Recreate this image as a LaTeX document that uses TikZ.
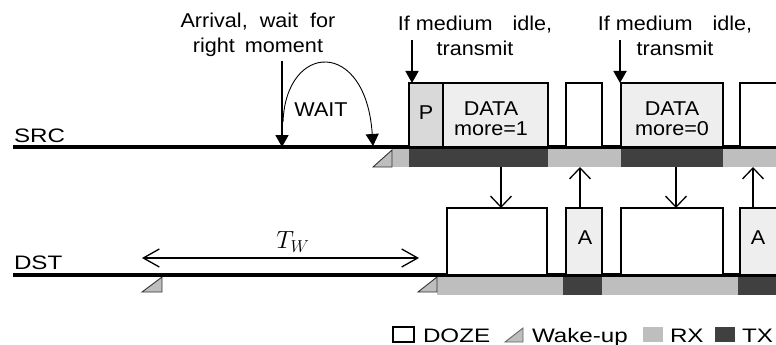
\documentclass[tikz,border=0pt]{standalone}
\usepackage{fontspec}
\setmainfont[FakeStretch=1.08]{Liberation Sans}
\newfontfamily\widefont[FakeStretch=1.24]{Liberation Sans}
\usetikzlibrary{arrows.meta,calc}
\definecolor{rxgray}{HTML}{BEBEBE}
\definecolor{txgray}{HTML}{404040}
\definecolor{pfill}{HTML}{D9D9D9}
\definecolor{dfill}{HTML}{EEEEEE}
\tikzset{
  slot/.style={draw, line width=1.6pt, outer sep=0pt, inner sep=0pt, anchor=north west},
  barseg/.style={outer sep=0pt, inner sep=0pt, anchor=north west, minimum height=18pt},
  timeline/.style={line width=4pt},
  wake/.style={fill=rxgray, draw=black!80, line width=0.9pt, line join=miter},
  event/.style={line width=1.8pt, -{Triangle[length=12pt,width=13pt]}},
  flow/.style={line width=1.3pt, -{Straight Barb[length=11pt,width=21pt]}},
  span/.style={line width=1.3pt, {Straight Barb[length=16pt,width=18pt]}-{Straight Barb[length=16pt,width=18pt]}},
  waitarc/.style={line width=0.9pt, -{Triangle[length=12pt,width=13pt]}},
  lbl/.style={inner sep=0pt, outer sep=0pt},
  widelbl/.style={lbl, anchor=base west, font=\widefont\fontsize{19.5}{25}\selectfont},
}
\begin{document}
\begin{tikzpicture}[x=1pt,y=-1pt,font=\fontsize{20}{25}\selectfont]
\path[use as bounding box] (0,0) rectangle (776,345);
\clip (0,0) rectangle (776,345);

% ---------- SRC activity bar ----------
\node[barseg, fill=rxgray, minimum width=17pt] (srx0) at (392,149) {};
\node[barseg, fill=txgray, minimum width=139pt] (stx1) at (409,149) {};
\node[barseg, fill=rxgray, minimum width=73pt] (srx1) at (548,149) {};
\node[barseg, fill=txgray, minimum width=102pt] (stx2) at (621,149) {};
\node[barseg, fill=rxgray, minimum width=70pt] (srx2) at (723,149) {};
\filldraw[wake] (373,167) -- (392,167) -- (392,150) -- cycle;

% ---------- DST activity bar ----------
\node[barseg, fill=rxgray, minimum width=126pt] (drx1) at (437,277) {};
\node[barseg, fill=txgray, minimum width=39pt] (dtx1) at (563,277) {};
\node[barseg, fill=rxgray, minimum width=136pt] (drx2) at (602,277) {};
\node[barseg, fill=txgray, minimum width=52pt] (dtx2) at (738,277) {};
\filldraw[wake] (418,292) -- (437,292) -- (437,277) -- cycle;
\filldraw[wake] (142,292) -- (162,292) -- (162,277) -- cycle;

% ---------- timelines ----------
\coordinate (s0) at (13,147); \coordinate (s1) at (790,147);
\coordinate (d0) at (13,275); \coordinate (d1) at (790,275);
\draw[timeline] (s0) -- (s1);
\draw[timeline] (d0) -- (d1);
\node[widelbl] (srclbl) at (14,142) {SRC};
\node[widelbl] (dstlbl) at (14,269) {DST};

% ---------- SRC boxes ----------
\node[slot, fill=pfill, minimum width=34pt, minimum height=64pt] (p) at (409,83) {};
\node[slot, fill=dfill, minimum width=105pt, minimum height=64pt] (da) at (443,83) {};
\node[slot, fill=white, minimum width=36pt, minimum height=64pt] (e1) at (566,83) {};
\node[slot, fill=dfill, minimum width=102pt, minimum height=64pt] (db) at (621,83) {};
\node[slot, fill=white, minimum width=50pt, minimum height=64pt] (e2) at (740,83) {};
\node[lbl] (plbl) at (426,113) {P};
\node[lbl, align=center, font=\fontsize{20}{20}\selectfont] (dalbl) at (491,119) {DATA\\more=1};
\node[lbl, align=center, font=\fontsize{20}{20}\selectfont] (dblbl) at (672,119) {DATA\\more=0};

% ---------- DST boxes ----------
\node[slot, fill=white, minimum width=100pt, minimum height=67pt] (b1) at (447,208) {};
\node[slot, fill=dfill, minimum width=36pt, minimum height=67pt] (ak1) at (566,208) {};
\node[slot, fill=white, minimum width=102pt, minimum height=67pt] (b2) at (621,208) {};
\node[slot, fill=dfill, minimum width=50pt, minimum height=67pt] (ak2) at (740,208) {};
\node[lbl] (a1lbl) at (585,238) {A};
\node[lbl] (a2lbl) at (758,238) {A};

% ---------- cross arrows ----------
\coordinate (m1) at (501,0);
\coordinate (m2) at (580,0);
\coordinate (m3) at (676,0);
\coordinate (m4) at (753,0);
\draw[flow] (stx1.south -| m1) -- (b1.north -| m1);
\draw[flow] (ak1.north -| m2) -- (srx1.south -| m2);
\draw[flow] (stx2.south -| m3) -- (b2.north -| m3);
\draw[flow] (ak2.north -| m4) -- (srx2.south -| m4);

% ---------- events ----------
\coordinate (arr) at (282,61);
\draw[event] (arr) -- (arr |- s0);
\coordinate (im1) at (412,40);
\draw[event] (im1) -- (im1 |- p.north);
\coordinate (im2) at (620,40);
\draw[event] (im2) -- (im2 |- db.north);
\coordinate (arcs) at (283,122);
\coordinate (arce) at (373,146);
\draw[waitarc] (arcs) .. controls (286,42) and (366,38) .. (arce);
\node[lbl] (waitlbl) at (321,110) {WAIT};

\node[lbl, align=center] (arrlbl) at (258,35) {Arrival,\hspace{6pt} wait\hspace{6pt} for\\right\hspace{4pt} moment};
\node[lbl, align=center] (im1lbl) at (475,36) {If medium\hspace{14pt} idle,\\transmit};
\node[lbl, align=center] (im2lbl) at (675,36) {If medium\hspace{14pt} idle,\\transmit};

% ---------- T_W ----------
\coordinate (tw0) at (142,258);
\coordinate (tw1) at (419,258);
\draw[span] (tw0) -- (tw1);
\node[lbl, font=\fontsize{23}{23}\selectfont] (twlbl) at (293,242) {$T_W$};

% ---------- legend ----------
\node[slot, fill=white, minimum width=21pt, minimum height=15pt] (lg1) at (393,327) {};
\node[widelbl] (lg1t) at (423,342) {DOZE};
\filldraw[wake, draw=black!60] (505,342) -- (523,342) -- (523,328) -- cycle;
\node[widelbl] (lg2t) at (532,342) {Wake-up};
\node[barseg, fill=rxgray, minimum width=20pt, minimum height=15pt] (lg3) at (643,327) {};
\node[widelbl] (lg3t) at (670,342) {RX};
\node[barseg, fill=txgray, minimum width=20pt, minimum height=15pt] (lg4) at (715,327) {};
\node[widelbl] (lg4t) at (742,342) {TX};
\end{tikzpicture}
\end{document}
